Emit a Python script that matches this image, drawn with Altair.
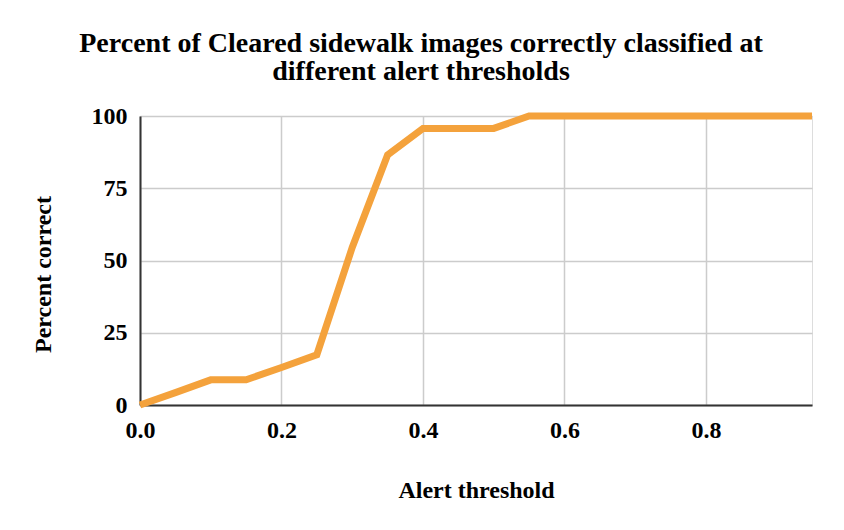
import altair as alt
import pandas as pd

thresholds = [0.0, 0.05, 0.1, 0.15, 0.2, 0.25, 0.3, 0.35, 0.4, 0.45,
              0.5, 0.55, 0.6, 0.65, 0.7, 0.75, 0.8, 0.85, 0.9, 0.95]
percent_correct = [0, 4.3, 8.7, 8.7, 13.0, 17.4, 54.5, 86.5, 95.7, 95.7,
                   95.7, 100, 100, 100, 100, 100, 100, 100, 100, 100]

df = pd.DataFrame({"threshold": thresholds, "pct": percent_correct})

FONT = "Liberation Serif"

chart = alt.Chart(df).mark_line(color="#F4A23C", strokeWidth=7, strokeCap="butt").encode(
    x=alt.X("threshold:Q",
            scale=alt.Scale(domain=[0, 0.95], nice=False, zero=False),
            axis=alt.Axis(title="Alert threshold", values=[0, 0.2, 0.4, 0.6, 0.8], format=".1f",
                          grid=True, gridColor="#cccccc", gridWidth=1.5,
                          domainColor="#333333", domainWidth=2, ticks=False,
                          labelFont=FONT, labelFontSize=24, labelFontWeight="bold", labelColor="#000",
                          labelPadding=13, labelFlush=False,
                          titleFont=FONT, titleFontSize=24, titleFontWeight="bold", titleColor="#000",
                          titleX=336, titleY=85, titleBaseline="middle")),
    y=alt.Y("pct:Q",
            scale=alt.Scale(domain=[0, 100], nice=False),
            axis=alt.Axis(title="Percent correct", values=[0, 25, 50, 75, 100],
                          grid=True, gridColor="#cccccc", gridWidth=1.5,
                          domainColor="#333333", domainWidth=2, ticks=False,
                          labelFont=FONT, labelFontSize=24, labelFontWeight="bold", labelColor="#000",
                          labelPadding=13, labelFlush=False,
                          titleFont=FONT, titleFontSize=24, titleFontWeight="bold", titleColor="#000",
                          titleX=-97, titleY=158, titleAngle=-90, titleAlign="center",
                          titleBaseline="middle")),
).properties(
    width=672,
    height=289,
    title=alt.Title(["Percent of Cleared sidewalk images correctly classified at",
                     "different alert thresholds"],
                    font=FONT, fontSize=28, fontWeight="bold", color="#000",
                    anchor="middle", dx=-55, offset=16, lineHeight=28),
    padding={"left": 132, "top": 108, "right": 24, "bottom": 100},
    autosize=alt.AutoSizeParams(type="none"),
).configure_view(stroke=None).configure(background="white")

chart.save("out.html", embed_options={"renderer": "svg", "actions": False})
